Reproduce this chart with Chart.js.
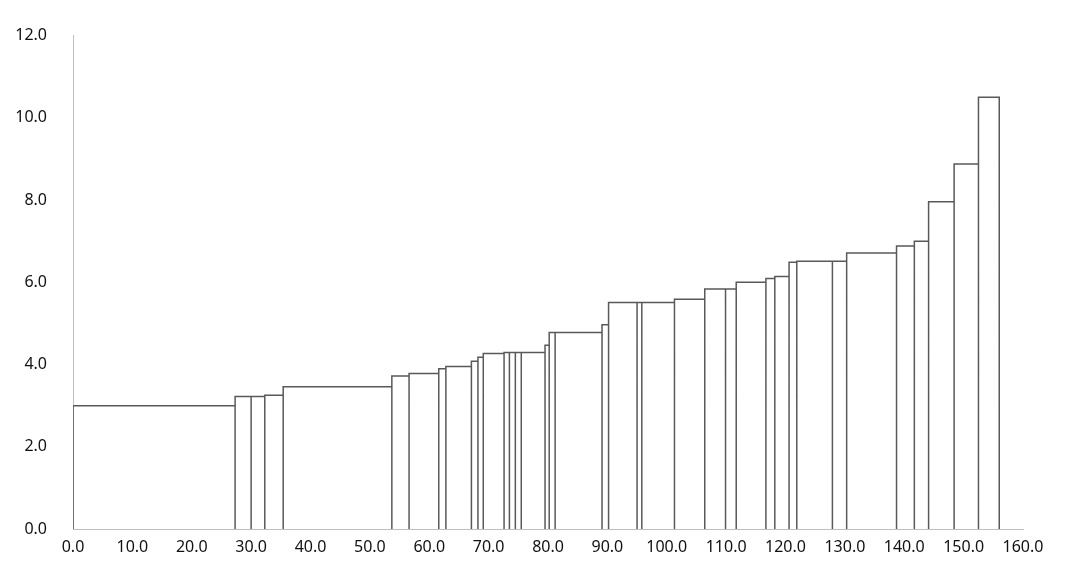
<!DOCTYPE html>
<html>
<head>
<meta charset="utf-8">
<script src="https://cdn.jsdelivr.net/npm/chart.js@4/dist/chart.umd.min.js"></script>
<style>
  html, body { margin: 0; padding: 0; background: #fff; }
  #wrap { width: 1080px; height: 580px; }
</style>
</head>
<body>
<div id="wrap"><canvas id="chart"></canvas></div>
<script>
// bar edges along x (each bar runs from edges[i] to edges[i+1])
const edges = [0, 27.3, 30.0, 32.3, 35.4, 53.7, 56.6, 61.6, 62.8, 67.1, 68.2, 69.1, 72.6, 73.5, 74.5, 75.5,
  79.5, 80.2, 81.2, 89.1, 90.2, 95.0, 95.8, 101.3, 106.4, 109.9, 111.7, 116.7, 118.2, 120.6, 121.9,
  127.9, 130.3, 138.7, 141.7, 144.1, 148.4, 152.5, 156.0];
// bar heights
const heights = [3.0, 3.22, 3.22, 3.25, 3.46, 3.72, 3.78, 3.90, 3.95, 4.08, 4.18, 4.27, 4.29, 4.29, 4.29,
  4.29, 4.47, 4.78, 4.78, 4.97, 5.51, 5.51, 5.51, 5.59, 5.84, 5.84, 6.0, 6.09, 6.14, 6.49, 6.51,
  6.51, 6.71, 6.88, 7.0, 7.96, 8.88, 10.5];

// outline of every bar as one path
const outline = [];
heights.forEach((h, i) => {
  outline.push({ x: edges[i], y: 0 });
  outline.push({ x: edges[i], y: h });
  outline.push({ x: edges[i + 1], y: h });
  outline.push({ x: edges[i + 1], y: 0 });
});

const tickFont = { family: "Noto Sans", size: 16 };

new Chart(document.getElementById("chart"), {
  type: "scatter",
  data: {
    datasets: [{
      data: outline,
      showLine: true,
      borderColor: "#595959",
      borderWidth: 1.5,
      pointRadius: 0,
      fill: false,
    }],
  },
  options: {
    responsive: true,
    maintainAspectRatio: false,
    animation: false,
    layout: { padding: { left: 0, right: 57, top: 22, bottom: 0 } },
    plugins: { legend: { display: false }, tooltip: { enabled: false } },
    scales: {
      x: {
        type: "linear",
        min: 0, max: 160,
        grid: { display: false, drawTicks: true, tickLength: 6, color: "#bfbfbf" },
        border: { color: "#bfbfbf" },
        ticks: { stepSize: 10, color: "#111", font: tickFont, maxRotation: 0,
          callback: v => v.toFixed(1) },
        afterFit: s => { s.height = 51; },
      },
      y: {
        min: 0, max: 12,
        grid: { display: false, drawTicks: false },
        border: { color: "#bfbfbf" },
        ticks: { stepSize: 2, color: "#111", font: tickFont, padding: 26,
          callback: v => v.toFixed(1) },
        afterFit: s => { s.width = 73; },
      },
    },
  },
});
</script>
</body>
</html>
